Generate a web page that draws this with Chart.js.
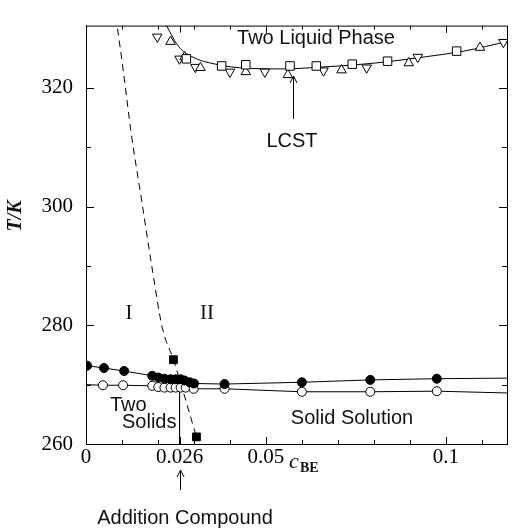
<!DOCTYPE html>
<html>
<head>
<meta charset="utf-8">
<script src="https://cdn.jsdelivr.net/npm/chart.js@4.4.0/dist/chart.umd.min.js"></script>
<style>
    html, body { margin: 0; padding: 0; background: #fff; }
</style>
</head>
<body>
<canvas id="phaseChart" width="516" height="529"></canvas>
<script>
// values: c_BE and T/K

// two liquid phase region
const squareX = [0.0279, 0.0377, 0.0444, 0.0567, 0.0640, 0.0740, 0.0838, 0.1030];
const squareT = [324.9, 323.7, 323.9, 323.7, 323.7, 324.0, 324.5, 326.2];
const upTriX = [0.0235, 0.0274, 0.0318, 0.0444, 0.0561, 0.0710, 0.0897, 0.1095];
const upTriT = [327.8, 325.2, 323.4, 322.7, 322.2, 323.0, 324.2, 326.8];
const downTriX = [0.0198, 0.0260, 0.0304, 0.0400, 0.0497, 0.0660, 0.0780, 0.0922, 0.1160];
const downTriT = [328.6, 324.9, 323.5, 322.7, 322.7, 322.9, 323.4, 325.2, 327.7];
const lcstCurveX = [0.0215, 0.0257, 0.0293, 0.0360, 0.0450, 0.0550, 0.0650, 0.0750, 0.0850, 0.0950, 0.1050, 0.1170];
const lcstCurveT = [331.5, 327.0, 325.3, 324.0, 323.3, 323.2, 323.5, 323.9, 324.5, 325.3, 326.2, 327.8];

// solid region (first and last entries only carry the line to the axes)
const filledX = [0.0003, 0.0050, 0.0106, 0.0184, 0.0201, 0.0218, 0.0235, 0.0249, 0.0263, 0.0274, 0.0288, 0.0300, 0.0385, 0.0600, 0.0790, 0.0975, 0.1170];
const filledT = [273.2, 272.8, 272.3, 271.5, 271.2, 271.0, 270.9, 270.9, 270.9, 270.7, 270.4, 270.2, 270.1, 270.4, 270.8, 271.0, 271.1];
const openX = [0.0, 0.0047, 0.0103, 0.0184, 0.0201, 0.0218, 0.0235, 0.0249, 0.0263, 0.0277, 0.0299, 0.0385, 0.0600, 0.0790, 0.0975, 0.1170];
const openT = [270.0, 269.9, 269.9, 269.8, 269.6, 269.5, 269.5, 269.5, 269.5, 269.5, 269.3, 269.3, 268.8, 268.8, 268.9, 268.6];

// addition compound boundary
const compoundX = [0.0243, 0.0307];
const compoundT = [274.2, 261.2];
const dashedX = [0.0083, 0.0103, 0.0126, 0.0154, 0.0182, 0.0212, 0.0243, 0.0307];
const dashedT = [332.0, 323.2, 312.2, 301.3, 290.3, 279.6, 274.2, 261.2];
const eutecticX = [0.026, 0.026];
const eutecticT = [269.5, 260];

// axes
const xTickLabels = [0, 0.026, 0.05, 0.1];
const xMinorTicks = [0.01, 0.02, 0.03, 0.04, 0.05, 0.06, 0.07, 0.08, 0.09, 0.1, 0.11];
const yTickLabels = [260, 280, 300, 320];
const yMinorTicks = [270, 290, 310];

function toPoints(xs, ys) {
    return xs.map((x, i) => ({ x: x, y: ys[i] }));
}

// hide the markers at the first/last entry of the connected series
function edgeRadius(xs, r, hideFirst) {
    return xs.map((x, i) => (i === xs.length - 1 || (hideFirst && i === 0)) ? 0 : r);
}

const serif = 'Liberation Serif';
const sans = 'Liberation Sans';

const decorations = {
    id: 'decorations',
    afterDraw(chart) {
        const ctx = chart.ctx;
        const area = chart.chartArea;
        const xs = chart.scales.x;
        const ys = chart.scales.y;

        ctx.save();
        ctx.strokeStyle = '#000';
        ctx.lineWidth = 1;

        // frame
        ctx.strokeRect(area.left + 0.5, area.top + 0.5, area.right - area.left, area.bottom - area.top);

        // inward ticks on all four sides
        ctx.beginPath();
        xMinorTicks.concat(xTickLabels).forEach(v => {
            const px = Math.round(xs.getPixelForValue(v)) + 0.5;
            const len = xTickLabels.includes(v) ? 7 : 4;
            ctx.moveTo(px, area.bottom); ctx.lineTo(px, area.bottom - len);
            ctx.moveTo(px, area.top); ctx.lineTo(px, area.top + len);
        });
        yMinorTicks.concat(yTickLabels).forEach(v => {
            const py = Math.round(ys.getPixelForValue(v)) + 0.5;
            const len = yTickLabels.includes(v) ? 8 : 5;
            ctx.moveTo(area.left, py); ctx.lineTo(area.left + len, py);
            ctx.moveTo(area.right, py); ctx.lineTo(area.right - len, py);
        });
        ctx.stroke();

        // arrows
        function arrow(x, y1, y2) {
            ctx.beginPath();
            ctx.moveTo(x, y1); ctx.lineTo(x, y2);
            ctx.moveTo(x - 3.5, y2 + 7); ctx.lineTo(x, y2); ctx.lineTo(x + 3.5, y2 + 7);
            ctx.stroke();
        }
        arrow(Math.round(xs.getPixelForValue(0.0575)) + 0.5, 119, 76);
        arrow(Math.round(xs.getPixelForValue(0.026)) + 0.5, 490, 470);

        // labels
        ctx.fillStyle = '#111';
        ctx.textBaseline = 'middle';
        ctx.textAlign = 'center';
        ctx.font = '20px "' + sans + '"';
        ctx.fillText('Two Liquid Phase', 316, 38);
        ctx.fillText('LCST', 292, 141);
        ctx.fillText('Solid Solution', 352, 418);
        ctx.fillText('Addition Compound', 185, 518);
        ctx.textAlign = 'left';
        ctx.fillText('Two', 110, 405);
        ctx.fillText('Solids', 122, 422);

        ctx.textAlign = 'center';
        ctx.font = '21px "' + serif + '"';
        ctx.fillText('I', 129, 313);
        ctx.fillText('II', 207, 313);

        // x axis title c_BE
        ctx.textAlign = 'left';
        ctx.textBaseline = 'alphabetic';
        ctx.font = 'italic 22px "' + serif + '"';
        ctx.fillText('c', 289, 468);
        ctx.font = 'bold 14px "' + serif + '"';
        ctx.fillText('BE', 300, 472);

        // y axis title T/K
        ctx.save();
        ctx.translate(16, 216);
        ctx.rotate(-Math.PI / 2);
        ctx.textAlign = 'center';
        ctx.textBaseline = 'middle';
        ctx.font = 'italic bold 20px "' + serif + '"';
        ctx.fillText('T/K', 0, 0);
        ctx.restore();

        ctx.restore();
    }
};

const ctx = document.getElementById('phaseChart').getContext('2d');

new Chart(ctx, {
    type: 'scatter',
    data: {
        datasets: [
            {
                label: 'squares',
                data: toPoints(squareX, squareT),
                pointStyle: 'rect',
                pointRadius: 6,
                backgroundColor: '#fff',
                borderColor: '#000',
                borderWidth: 1,
                order: 0
            },
            {
                label: 'up triangles',
                data: toPoints(upTriX, upTriT),
                pointStyle: 'triangle',
                pointRadius: 5.5,
                backgroundColor: '#fff',
                borderColor: '#000',
                borderWidth: 1,
                order: 0
            },
            {
                label: 'down triangles',
                data: toPoints(downTriX, downTriT),
                pointStyle: 'triangle',
                rotation: 180,
                pointRadius: 5.5,
                backgroundColor: '#fff',
                borderColor: '#000',
                borderWidth: 1,
                order: 0
            },
            {
                label: 'LCST curve',
                data: toPoints(lcstCurveX, lcstCurveT),
                showLine: true,
                cubicInterpolationMode: 'monotone',
                pointRadius: 0,
                borderColor: '#000',
                borderWidth: 1,
                order: 2
            },
            {
                label: 'filled circles',
                data: toPoints(filledX, filledT),
                showLine: true,
                pointRadius: edgeRadius(filledX, 4.5, false),
                backgroundColor: '#000',
                borderColor: '#000',
                borderWidth: 1,
                order: 1
            },
            {
                label: 'open circles',
                data: toPoints(openX, openT),
                showLine: true,
                pointRadius: edgeRadius(openX, 4.5, true),
                backgroundColor: '#fff',
                borderColor: '#000',
                borderWidth: 1,
                order: 1
            },
            {
                label: 'addition compound',
                data: toPoints(compoundX, compoundT),
                pointStyle: 'rect',
                pointRadius: 5.5,
                backgroundColor: '#000',
                borderColor: '#000',
                order: 0
            },
            {
                label: 'boundary',
                data: toPoints(dashedX, dashedT),
                showLine: true,
                cubicInterpolationMode: 'monotone',
                pointRadius: 0,
                borderColor: '#000',
                borderWidth: 1,
                borderDash: [7, 5],
                order: 3
            },
            {
                label: 'eutectic',
                data: toPoints(eutecticX, eutecticT),
                showLine: true,
                pointRadius: 0,
                borderColor: '#000',
                borderWidth: 1,
                order: 3
            }
        ]
    },
    options: {
        responsive: false,
        animation: false,
        layout: { padding: { top: 15, right: 9, left: 0, bottom: 0 } },
        plugins: {
            legend: { display: false },
            tooltip: { enabled: false }
        },
        scales: {
            x: {
                type: 'linear',
                min: 0,
                max: 0.117,
                afterBuildTicks: scale => { scale.ticks = xTickLabels.map(v => ({ value: v })); },
                afterFit: scale => { scale.height = 85; },
                ticks: {
                    callback: v => String(v),
                    color: '#000',
                    font: { family: serif, size: 21 },
                    padding: 1,
                    maxRotation: 0,
                    autoSkip: false
                },
                grid: { drawOnChartArea: false, drawTicks: false },
                border: { color: '#000' }
            },
            y: {
                type: 'linear',
                min: 260,
                max: 330.5,
                afterBuildTicks: scale => { scale.ticks = yTickLabels.map(v => ({ value: v })); },
                afterFit: scale => { scale.width = 86; },
                ticks: {
                    color: '#000',
                    font: { family: serif, size: 21 },
                    padding: 13
                },
                grid: { drawOnChartArea: false, drawTicks: false },
                border: { color: '#000' }
            }
        }
    },
    plugins: [decorations]
});
</script>
</body>
</html>
